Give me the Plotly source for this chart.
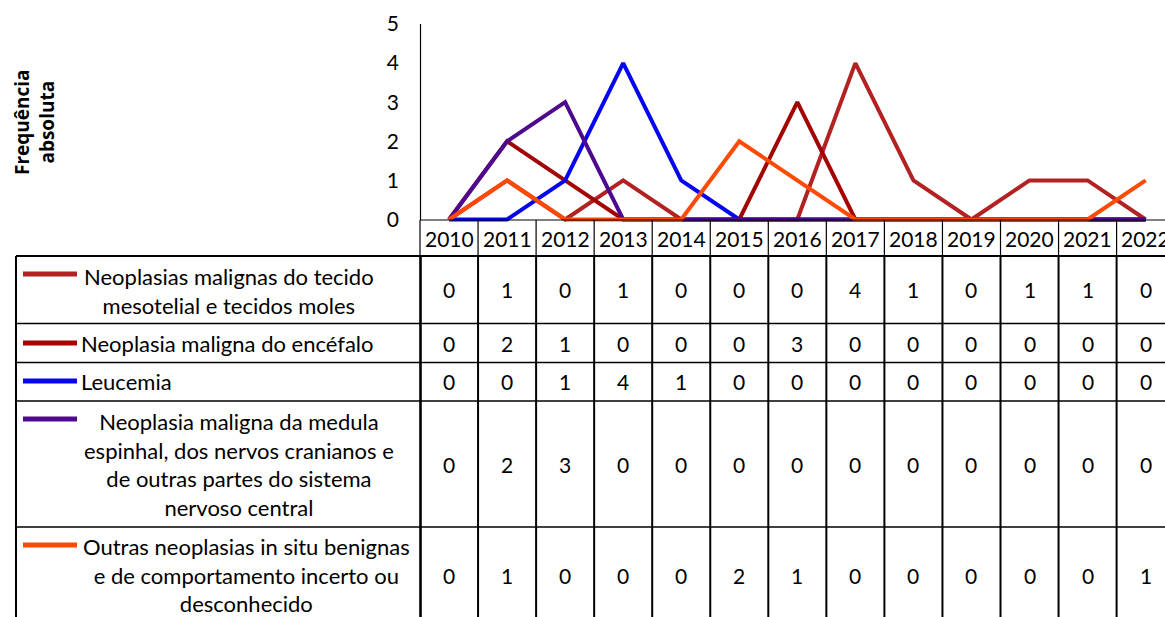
import plotly.graph_objects as go

years = ["2010", "2011", "2012", "2013", "2014", "2015", "2016",
         "2017", "2018", "2019", "2020", "2021", "2022"]

series_names = [
    "Neoplasias malignas do tecido<br>mesotelial e tecidos moles",
    "Neoplasia maligna do encéfalo",
    "Leucemia",
    "Neoplasia maligna da medula<br>espinhal, dos nervos cranianos e<br>de outras partes do sistema<br>nervoso central",
    "Outras neoplasias in situ benignas<br>e de comportamento incerto ou<br>desconhecido",
]

tecido_moles = [0, 1, 0, 1, 0, 0, 0, 4, 1, 0, 1, 1, 0]
encefalo = [0, 2, 1, 0, 0, 0, 3, 0, 0, 0, 0, 0, 0]
leucemia = [0, 0, 1, 4, 1, 0, 0, 0, 0, 0, 0, 0, 0]
medula_snc = [0, 2, 3, 0, 0, 0, 0, 0, 0, 0, 0, 0, 0]
outras = [0, 1, 0, 0, 0, 2, 1, 0, 0, 0, 0, 0, 1]

series_values = [tecido_moles, encefalo, leucemia, medula_snc, outras]
colors = ["#B22222", "#A30404", "#0505EE", "#4E0A8E", "#FF4A05"]

W, H = 1165, 617
PLOT_L, PLOT_T, PLOT_B = 420, 24, 222
COL_W = 58.05

FONT = "Lato"
FS_LABEL = 22
FS_NUM = 21


def px_x(p):
    return (p - PLOT_L) / (W - PLOT_L)


def px_y(p):
    return (PLOT_B - p) / (PLOT_B - PLOT_T)


xs = list(range(len(years)))
fig = go.Figure()
for name, vals, col in zip(series_names, series_values, colors):
    fig.add_trace(go.Scatter(x=xs, y=vals, mode="lines", name=name,
                             line=dict(color=col, width=4),
                             showlegend=False, cliponaxis=False))

x_max = -0.5 + (W - PLOT_L) / COL_W
y_min = -(PLOT_B - 219.5) / ((219.5 - PLOT_T) / 5)

shapes = []
ann = []


def hline(y, x0, x1, w):
    shapes.append(dict(type="line", xref="paper", yref="paper",
                       x0=px_x(x0), x1=px_x(x1), y0=px_y(y), y1=px_y(y),
                       line=dict(color="black", width=w)))


def vline(x, y0, y1, w):
    shapes.append(dict(type="line", xref="paper", yref="paper",
                       x0=px_x(x), x1=px_x(x), y0=px_y(y0), y1=px_y(y1),
                       line=dict(color="black", width=w)))


# y axis line
vline(420.5, 24, 220, 1.2)

# header cells with the year labels
TABLE_TOP = 256
hline(220, 420, W, 1.2)
for i in range(len(years) + 1):
    xb = PLOT_L + i * COL_W
    if xb <= W:
        vline(xb, 220, TABLE_TOP, 1.2)
for i, yr in enumerate(years):
    ann.append(dict(x=i, y=px_y(238), xref="x", yref="paper", text=yr,
                    showarrow=False, font=dict(family=FONT, size=FS_NUM, color="black"),
                    xanchor="center", yanchor="middle"))

# data table body
row_edges = [256, 323.5, 362.5, 401, 527, 640]
hline(TABLE_TOP, 16, W, 1.8)
for yb in row_edges[1:-1]:
    hline(yb, 16, W, 1.6)
vline(16, 256, 640, 2)
vline(420.5, 256, 640, 2.6)
for i in range(1, len(years) + 1):
    xb = PLOT_L + i * COL_W
    if xb <= W:
        vline(xb, 256, 640, 2)

# legend keys and series labels
key_y = [274, 343, 381, 419, 545]
label_cx = [229, 79, 79, 239, 246]
label_anchor = ["center", "left", "left", "center", "center"]
label_cy = [290.5, 343, 381, 464, 575]
for r, (name, col) in enumerate(zip(series_names, colors)):
    shapes.append(dict(type="line", xref="paper", yref="paper",
                       x0=px_x(23), x1=px_x(77), y0=px_y(key_y[r]), y1=px_y(key_y[r]),
                       line=dict(color=col, width=5)))
    ann.append(dict(x=px_x(label_cx[r]), y=px_y(label_cy[r]), xref="paper", yref="paper",
                    text=name, showarrow=False, align="center",
                    font=dict(family=FONT, size=FS_LABEL, color="black"),
                    xanchor=label_anchor[r], yanchor="middle"))

# cell values
for r, vals in enumerate(series_values):
    cy = (row_edges[r] + min(row_edges[r + 1], 617)) / 2
    if r == 4:
        cy = 575
    for i, v in enumerate(vals):
        ann.append(dict(x=i, y=px_y(cy), xref="x", yref="paper", text=str(v),
                        showarrow=False, font=dict(family=FONT, size=FS_NUM, color="black"),
                        xanchor="center", yanchor="middle"))

# y axis title
ann.append(dict(x=px_x(34), y=px_y(122), xref="paper", yref="paper",
                text="<b>Frequência<br>absoluta</b>", showarrow=False, textangle=-90,
                font=dict(family="Open Sans", size=19, color="black"),
                xanchor="center", yanchor="middle"))

fig.update_layout(
    width=W, height=H,
    margin=dict(l=PLOT_L, r=0, t=PLOT_T, b=H - PLOT_B),
    paper_bgcolor="white", plot_bgcolor="white",
    xaxis=dict(range=[-0.5, x_max], showgrid=False, zeroline=False,
               showticklabels=False, showline=False, ticks=""),
    yaxis=dict(range=[y_min, 5], tickvals=[0, 1, 2, 3, 4, 5], showgrid=False,
               zeroline=False, showline=False, ticks="", ticklabelstandoff=20,
               tickfont=dict(family=FONT, size=FS_NUM, color="black")),
    shapes=shapes, annotations=ann,
)

fig.write_html("out.html")
